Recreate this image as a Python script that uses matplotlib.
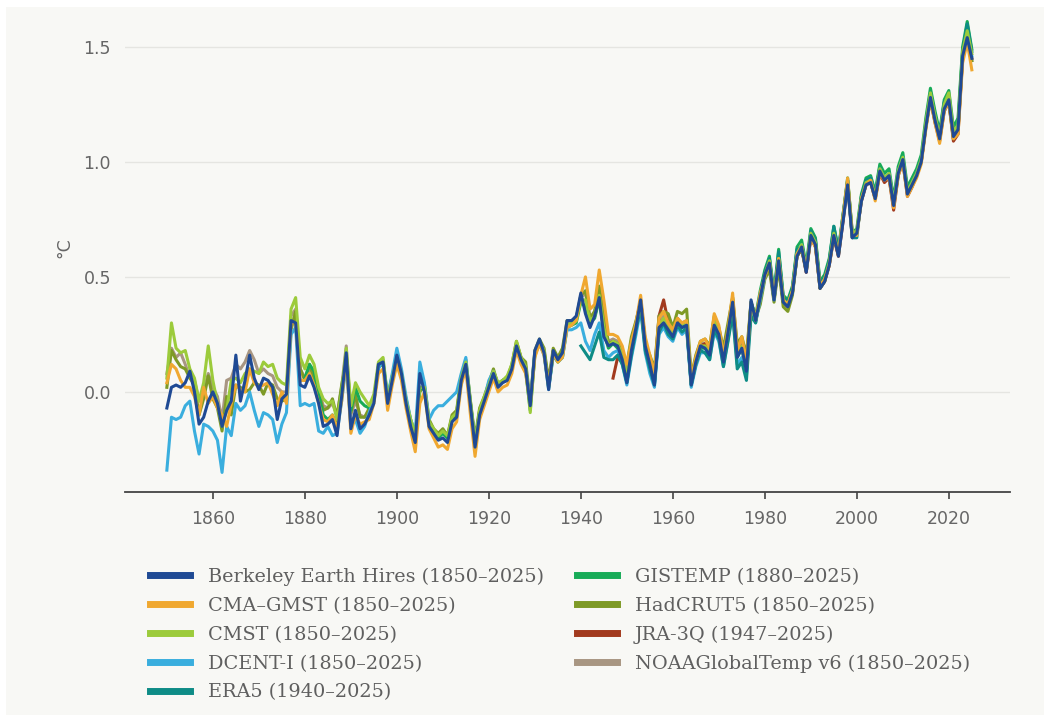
import matplotlib
matplotlib.use('Agg')
import matplotlib.pyplot as plt
from matplotlib.patches import Rectangle
import numpy as np

# годовые аномалии глобальной температуры относительно 1850-1900, °C
berkeley = [
    -0.07, 0.02, 0.03, 0.02, 0.04, 0.09, 0.00, -0.14, -0.11, -0.04,
    0.00, -0.05, -0.15, -0.08, -0.04, 0.16, -0.04, 0.05, 0.16, 0.06,
    0.01, 0.06, 0.05, 0.02, -0.12, -0.03, -0.01, 0.31, 0.30, 0.03,
    0.02, 0.07, 0.02, -0.05, -0.15, -0.14, -0.12, -0.19, -0.02, 0.17,
    -0.16, -0.08, -0.16, -0.14, -0.10, -0.05, 0.12, 0.13, -0.05, 0.05,
    0.16, 0.08, -0.05, -0.15, -0.22, 0.08, 0.00, -0.15, -0.18, -0.21,
    -0.20, -0.22, -0.13, -0.11, 0.05, 0.12, -0.06, -0.24, -0.10, -0.04,
    0.02, 0.08, 0.02, 0.04, 0.05, 0.10, 0.20, 0.14, 0.10, -0.06,
    0.18, 0.23, 0.17, 0.01, 0.18, 0.14, 0.17, 0.31, 0.31, 0.33,
    0.43, 0.34, 0.28, 0.33, 0.41, 0.24, 0.20, 0.21, 0.20, 0.14,
    0.04, 0.18, 0.28, 0.40, 0.20, 0.12, 0.03, 0.28, 0.30, 0.27,
    0.24, 0.30, 0.28, 0.29, 0.03, 0.13, 0.20, 0.19, 0.16, 0.29,
    0.25, 0.13, 0.26, 0.39, 0.15, 0.19, 0.09, 0.40, 0.31, 0.41,
    0.51, 0.56, 0.40, 0.57, 0.39, 0.37, 0.43, 0.59, 0.63, 0.52,
    0.68, 0.64, 0.45, 0.48, 0.55, 0.68, 0.59, 0.74, 0.90, 0.67,
    0.69, 0.83, 0.90, 0.91, 0.84, 0.96, 0.92, 0.94, 0.81, 0.95,
    1.01, 0.86, 0.90, 0.94, 1.00, 1.15, 1.28, 1.18, 1.10, 1.23,
    1.27, 1.11, 1.14, 1.46, 1.54, 1.45]

cma_gmst = [
    0.04, 0.12, 0.10, 0.05, 0.02, 0.02, -0.02, -0.10, 0.02, -0.05,
    -0.02, -0.07, -0.10, -0.15, -0.05, 0.03, 0.01, 0.00, 0.10, 0.04,
    0.02, 0.03, 0.04, -0.01, -0.06, 0.00, -0.05, 0.30, 0.30, 0.05,
    0.05, 0.08, 0.03, -0.05, -0.12, -0.13, -0.10, -0.16, -0.04, 0.15,
    -0.18, -0.10, -0.14, -0.13, -0.12, -0.05, 0.08, 0.10, -0.08, 0.03,
    0.12, 0.05, -0.07, -0.17, -0.26, -0.05, 0.00, -0.16, -0.20, -0.24,
    -0.23, -0.25, -0.16, -0.13, 0.03, 0.10, -0.10, -0.28, -0.12, -0.06,
    0.00, 0.06, 0.00, 0.02, 0.03, 0.08, 0.18, 0.12, 0.08, -0.05,
    0.15, 0.21, 0.16, 0.03, 0.17, 0.13, 0.15, 0.28, 0.29, 0.31,
    0.42, 0.50, 0.36, 0.38, 0.53, 0.40, 0.25, 0.25, 0.24, 0.20,
    0.12, 0.22, 0.30, 0.42, 0.24, 0.16, 0.08, 0.32, 0.35, 0.30,
    0.27, 0.32, 0.30, 0.31, 0.06, 0.15, 0.22, 0.23, 0.19, 0.34,
    0.29, 0.16, 0.27, 0.43, 0.18, 0.24, 0.13, 0.39, 0.32, 0.43,
    0.50, 0.56, 0.41, 0.58, 0.40, 0.38, 0.44, 0.60, 0.63, 0.53,
    0.67, 0.63, 0.46, 0.49, 0.55, 0.68, 0.60, 0.76, 0.93, 0.68,
    0.68, 0.84, 0.90, 0.92, 0.83, 0.95, 0.92, 0.93, 0.80, 0.94,
    1.00, 0.85, 0.89, 0.93, 0.99, 1.14, 1.27, 1.17, 1.08, 1.22,
    1.26, 1.10, 1.12, 1.43, 1.52, 1.40]

cmst = [
    0.06, 0.30, 0.19, 0.17, 0.18, 0.10, 0.06, -0.04, 0.04, 0.20,
    0.05, -0.05, -0.15, -0.08, 0.05, 0.06, 0.04, 0.08, 0.10, 0.09,
    0.08, 0.13, 0.11, 0.12, 0.06, 0.04, 0.03, 0.36, 0.41, 0.15,
    0.10, 0.16, 0.12, 0.02, -0.03, -0.05, -0.04, -0.12, 0.00, 0.19,
    -0.06, 0.04, 0.00, -0.03, -0.06, -0.01, 0.13, 0.15, -0.03, 0.06,
    0.15, 0.08, -0.04, -0.12, -0.19, 0.02, 0.02, -0.13, -0.16, -0.19,
    -0.17, -0.19, -0.11, -0.09, 0.06, 0.13, -0.04, -0.22, -0.08, -0.02,
    0.03, 0.09, 0.04, 0.05, 0.07, 0.12, 0.22, 0.15, 0.11, -0.09,
    0.16, 0.22, 0.18, 0.02, 0.17, 0.13, 0.16, 0.29, 0.30, 0.31,
    0.40, 0.40, 0.31, 0.33, 0.42, 0.28, 0.20, 0.22, 0.21, 0.16,
    0.07, 0.19, 0.29, 0.39, 0.21, 0.13, 0.05, 0.29, 0.32, 0.28,
    0.25, 0.30, 0.29, 0.30, 0.04, 0.13, 0.20, 0.20, 0.17, 0.31,
    0.26, 0.14, 0.26, 0.40, 0.16, 0.20, 0.10, 0.38, 0.31, 0.41,
    0.51, 0.57, 0.41, 0.58, 0.40, 0.38, 0.44, 0.60, 0.64, 0.53,
    0.69, 0.65, 0.46, 0.49, 0.56, 0.69, 0.60, 0.76, 0.91, 0.69,
    0.70, 0.84, 0.91, 0.92, 0.85, 0.97, 0.93, 0.95, 0.82, 0.96,
    1.02, 0.87, 0.91, 0.95, 1.01, 1.17, 1.30, 1.20, 1.11, 1.25,
    1.30, 1.13, 1.16, 1.48, 1.57, 1.47]

dcent = [
    -0.34, -0.11, -0.12, -0.11, -0.06, -0.04, -0.17, -0.27, -0.14, -0.15,
    -0.17, -0.21, -0.35, -0.15, -0.19, -0.05, -0.08, -0.06, 0.00, -0.08,
    -0.15, -0.09, -0.10, -0.12, -0.22, -0.14, -0.09, 0.25, 0.28, -0.06,
    -0.05, -0.06, -0.05, -0.17, -0.18, -0.15, -0.19, -0.18, -0.04, 0.12,
    -0.15, -0.12, -0.18, -0.15, -0.09, -0.03, 0.10, 0.14, -0.02, 0.08,
    0.19, 0.10, -0.02, -0.12, -0.18, 0.13, 0.04, -0.12, -0.08, -0.06,
    -0.06, -0.04, -0.02, 0.00, 0.08, 0.15, -0.05, -0.22, -0.09, -0.03,
    0.05, 0.09, 0.03, 0.05, 0.06, 0.11, 0.19, 0.14, 0.10, -0.05,
    0.17, 0.21, 0.16, 0.01, 0.16, 0.13, 0.15, 0.27, 0.27, 0.28,
    0.30, 0.22, 0.18, 0.25, 0.30, 0.18, 0.15, 0.17, 0.18, 0.12,
    0.03, 0.15, 0.25, 0.36, 0.17, 0.08, 0.02, 0.25, 0.28, 0.24,
    0.22, 0.28, 0.25, 0.27, 0.02, 0.11, 0.17, 0.17, 0.14, 0.26,
    0.22, 0.11, 0.23, 0.35, 0.12, 0.15, 0.07, 0.36, 0.30, 0.40,
    0.50, 0.57, 0.40, 0.58, 0.40, 0.38, 0.44, 0.61, 0.64, 0.53,
    0.69, 0.65, 0.46, 0.49, 0.56, 0.70, 0.61, 0.76, 0.91, 0.68,
    0.69, 0.84, 0.91, 0.93, 0.85, 0.97, 0.93, 0.95, 0.82, 0.96,
    1.02, 0.87, 0.91, 0.95, 1.01, 1.16, 1.29, 1.19, 1.11, 1.24,
    1.28, 1.12, 1.15, 1.47, 1.56, 1.46]

era5 = [
    0.20, 0.17, 0.14, 0.20, 0.26, 0.15, 0.14, 0.14, 0.16, 0.12,
    0.04, 0.16, 0.27, 0.37, 0.18, 0.10, 0.03, 0.26, 0.30, 0.25,
    0.23, 0.29, 0.26, 0.28, 0.03, 0.12, 0.18, 0.17, 0.14, 0.27,
    0.23, 0.11, 0.22, 0.34, 0.10, 0.13, 0.05, 0.33, 0.30, 0.42,
    0.52, 0.58, 0.42, 0.61, 0.41, 0.39, 0.45, 0.62, 0.63, 0.53,
    0.70, 0.66, 0.47, 0.50, 0.57, 0.72, 0.61, 0.77, 0.92, 0.67,
    0.67, 0.85, 0.92, 0.93, 0.86, 0.97, 0.93, 0.94, 0.81, 0.95,
    1.02, 0.87, 0.91, 0.95, 1.01, 1.16, 1.30, 1.20, 1.12, 1.26,
    1.28, 1.12, 1.16, 1.48, 1.60, 1.48]

gistemp = [
    0.06, 0.12, 0.09, -0.01, -0.10, -0.12, -0.10, -0.15, 0.00, 0.16,
    -0.08, 0.02, -0.04, -0.06, -0.07, -0.03, 0.11, 0.13, -0.04, 0.05,
    0.13, 0.07, -0.05, -0.14, -0.21, 0.02, 0.01, -0.14, -0.18, -0.20,
    -0.18, -0.20, -0.12, -0.10, 0.04, 0.12, -0.05, -0.22, -0.09, -0.03,
    0.02, 0.08, 0.03, 0.05, 0.06, 0.10, 0.20, 0.14, 0.09, -0.08,
    0.16, 0.21, 0.17, 0.02, 0.16, 0.13, 0.15, 0.28, 0.29, 0.30,
    0.39, 0.37, 0.30, 0.32, 0.40, 0.26, 0.19, 0.21, 0.19, 0.15,
    0.06, 0.18, 0.28, 0.38, 0.20, 0.12, 0.04, 0.28, 0.31, 0.27,
    0.24, 0.30, 0.28, 0.29, 0.03, 0.12, 0.19, 0.19, 0.16, 0.30,
    0.26, 0.13, 0.26, 0.40, 0.15, 0.19, 0.09, 0.39, 0.33, 0.44,
    0.53, 0.59, 0.43, 0.62, 0.42, 0.40, 0.46, 0.63, 0.66, 0.55,
    0.71, 0.67, 0.48, 0.51, 0.58, 0.72, 0.62, 0.77, 0.93, 0.69,
    0.71, 0.86, 0.93, 0.94, 0.87, 0.99, 0.95, 0.97, 0.84, 0.98,
    1.04, 0.89, 0.93, 0.97, 1.03, 1.19, 1.32, 1.22, 1.13, 1.27,
    1.31, 1.15, 1.19, 1.50, 1.61, 1.49]

hadcrut5 = [
    0.02, 0.18, 0.14, 0.11, 0.10, 0.06, 0.03, -0.10, -0.03, 0.07,
    -0.03, -0.07, -0.17, -0.02, -0.10, 0.03, 0.02, 0.00, 0.01, 0.04,
    0.03, -0.01, 0.04, 0.03, -0.03, -0.04, -0.03, 0.27, 0.35, 0.10,
    0.05, 0.12, 0.06, 0.00, -0.08, -0.07, -0.03, -0.11, 0.03, 0.13,
    -0.09, -0.01, -0.11, -0.11, -0.07, -0.04, 0.11, 0.12, -0.02, 0.07,
    0.13, 0.07, -0.03, -0.12, -0.18, 0.00, 0.03, -0.12, -0.16, -0.18,
    -0.16, -0.19, -0.10, -0.08, 0.07, 0.14, -0.04, -0.20, -0.07, -0.02,
    0.04, 0.10, 0.03, 0.05, 0.06, 0.12, 0.22, 0.15, 0.13, -0.04,
    0.18, 0.23, 0.19, 0.05, 0.19, 0.15, 0.19, 0.31, 0.31, 0.32,
    0.42, 0.44, 0.32, 0.35, 0.46, 0.33, 0.21, 0.22, 0.21, 0.18,
    0.12, 0.24, 0.31, 0.39, 0.21, 0.16, 0.10, 0.33, 0.35, 0.34,
    0.28, 0.35, 0.34, 0.36, 0.07, 0.16, 0.22, 0.23, 0.20, 0.33,
    0.28, 0.19, 0.30, 0.41, 0.21, 0.24, 0.16, 0.39, 0.32, 0.38,
    0.49, 0.53, 0.39, 0.54, 0.37, 0.35, 0.42, 0.59, 0.62, 0.53,
    0.68, 0.65, 0.45, 0.48, 0.56, 0.68, 0.60, 0.76, 0.92, 0.70,
    0.69, 0.85, 0.92, 0.93, 0.85, 0.98, 0.93, 0.95, 0.82, 0.95,
    1.01, 0.87, 0.91, 0.95, 1.00, 1.16, 1.27, 1.18, 1.10, 1.23,
    1.26, 1.10, 1.14, 1.46, 1.54, 1.44]

jra3q = [
    0.06, 0.15, 0.13,
    0.06, 0.20, 0.30, 0.40, 0.22, 0.14, 0.07, 0.33, 0.40, 0.30,
    0.28, 0.32, 0.29, 0.30, 0.05, 0.14, 0.20, 0.21, 0.17, 0.31,
    0.27, 0.14, 0.26, 0.40, 0.16, 0.20, 0.10, 0.37, 0.31, 0.40,
    0.50, 0.56, 0.40, 0.57, 0.39, 0.37, 0.43, 0.59, 0.62, 0.52,
    0.67, 0.63, 0.45, 0.48, 0.55, 0.67, 0.59, 0.74, 0.90, 0.67,
    0.69, 0.83, 0.90, 0.91, 0.84, 0.95, 0.91, 0.93, 0.79, 0.94,
    1.00, 0.85, 0.89, 0.94, 1.00, 1.15, 1.27, 1.17, 1.09, 1.22,
    1.26, 1.09, 1.12, 1.45, 1.55, 1.45]

noaa = [
    0.08, 0.19, 0.15, 0.17, 0.12, 0.06, 0.05, -0.04, 0.00, 0.08,
    0.02, -0.02, -0.12, 0.05, 0.06, 0.12, 0.10, 0.13, 0.18, 0.14,
    0.08, 0.10, 0.08, 0.07, 0.02, 0.00, 0.00, 0.33, 0.36, 0.10,
    0.06, 0.09, 0.06, 0.01, -0.06, -0.07, -0.05, -0.10, 0.02, 0.20,
    -0.10, -0.04, -0.10, -0.11, -0.08, -0.04, 0.11, 0.12, -0.04, 0.05,
    0.14, 0.07, -0.04, -0.13, -0.20, 0.02, 0.02, -0.13, -0.17, -0.19,
    -0.18, -0.20, -0.11, -0.09, 0.06, 0.13, -0.05, -0.22, -0.08, -0.03,
    0.03, 0.09, 0.03, 0.05, 0.06, 0.11, 0.21, 0.15, 0.11, -0.06,
    0.17, 0.22, 0.18, 0.03, 0.18, 0.14, 0.16, 0.30, 0.31, 0.32,
    0.41, 0.43, 0.32, 0.35, 0.45, 0.31, 0.22, 0.23, 0.22, 0.16,
    0.08, 0.20, 0.29, 0.40, 0.22, 0.14, 0.06, 0.30, 0.33, 0.29,
    0.26, 0.31, 0.30, 0.31, 0.05, 0.14, 0.21, 0.21, 0.18, 0.32,
    0.27, 0.15, 0.27, 0.41, 0.17, 0.21, 0.11, 0.39, 0.32, 0.41,
    0.51, 0.56, 0.41, 0.57, 0.39, 0.37, 0.43, 0.59, 0.63, 0.52,
    0.68, 0.64, 0.45, 0.48, 0.55, 0.68, 0.59, 0.75, 0.91, 0.68,
    0.69, 0.83, 0.90, 0.91, 0.84, 0.96, 0.92, 0.94, 0.81, 0.95,
    1.01, 0.86, 0.90, 0.94, 1.00, 1.15, 1.28, 1.18, 1.10, 1.23,
    1.27, 1.11, 1.14, 1.45, 1.54, 1.44]

# (подпись, первый год, ряд, цвет) - в порядке легенды
datasets = [
    ('Berkeley Earth Hires (1850–2025)', 1850, berkeley, '#1f4a94'),
    ('CMA–GMST (1850–2025)', 1850, cma_gmst, '#f0a830'),
    ('CMST (1850–2025)', 1850, cmst, '#9ccb3b'),
    ('DCENT-I (1850–2025)', 1850, dcent, '#3aaede'),
    ('ERA5 (1940–2025)', 1940, era5, '#0e8c86'),
    ('GISTEMP (1880–2025)', 1880, gistemp, '#17ab57'),
    ('HadCRUT5 (1850–2025)', 1850, hadcrut5, '#7e9a26'),
    ('JRA-3Q (1947–2025)', 1947, jra3q, '#a23a1e'),
    ('NOAAGlobalTemp v6 (1850–2025)', 1850, noaa, '#a89682'),
]
draw_order = [8, 7, 6, 5, 3, 4, 2, 1, 0]  # Berkeley сверху

y_ticks = [0.0, 0.5, 1.0, 1.5]
x_ticks = [1860, 1880, 1900, 1920, 1940, 1960, 1980, 2000, 2020]

fig = plt.figure(figsize=(10.44, 7.15), dpi=100)
fig.patch.set_facecolor('white')
fig.add_artist(Rectangle((6 / 1044, 0), 1, 1 - 7 / 715, transform=fig.transFigure,
                         facecolor='#f8f8f5', edgecolor='none', zorder=-10))

ax = fig.add_axes([125 / 1044, 1 - 492 / 715, 885 / 1044, 482 / 715])
ax.patch.set_alpha(0)

handles = {}
for i in draw_order:
    label, start, vals, color = datasets[i]
    years = np.arange(start, start + len(vals))
    line, = ax.plot(years, vals, color=color, lw=2.2, solid_joinstyle='round')
    handles[i] = line

ax.set_xlim(1840.9, 2033.3)
ax.set_ylim(-0.435, 1.66)
ax.set_yticks(y_ticks)
ax.set_yticklabels(['0.0', '0.5', '1.0', '1.5'])
ax.set_xticks(x_ticks)
ax.grid(axis='y', color='#e5e5e1', lw=1.0)
ax.set_axisbelow(True)
for s in ['top', 'right', 'left']:
    ax.spines[s].set_visible(False)
ax.spines['bottom'].set_color('#444444')
ax.spines['bottom'].set_linewidth(1.3)
ax.tick_params(axis='y', length=0, pad=10, labelsize=12.5, labelcolor='#666666')
ax.tick_params(axis='x', length=5, width=1.2, color='#444444', pad=8,
               labelsize=12.5, labelcolor='#666666')

fig.text(64 / 1044, 1 - 248 / 715, '°C', rotation=90, ha='center', va='center',
         fontsize=12.5, color='#666666')

leg_h = [handles[i] for i in range(len(datasets))]
leg_l = [d[0] for d in datasets]
leg = fig.legend(leg_h, leg_l, ncol=2, loc='upper left',
                 bbox_to_anchor=(150 / 1044, 1 - 568 / 715), frameon=False,
                 borderpad=0, borderaxespad=0, handlelength=2.07, handletextpad=0.93,
                 columnspacing=1.7, labelspacing=0.56,
                 prop={'family': 'DejaVu Serif', 'size': 13.9})
for t in leg.get_texts():
    t.set_color('#5f5f5f')
for h in leg.get_lines():
    h.set_linewidth(5)

fig.savefig('out.png', dpi=100, facecolor=fig.get_facecolor())
